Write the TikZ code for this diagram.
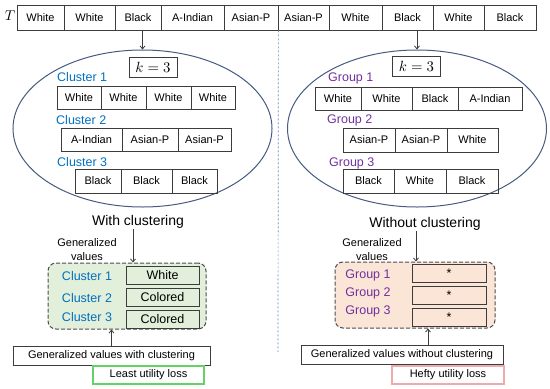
\documentclass[tikz,border=0pt]{standalone}
\usepackage{graphicx}
\usepackage{fontspec}
\setmainfont{Liberation Sans}
\usetikzlibrary{arrows.meta, positioning, shapes.geometric}

\definecolor{clblue}{RGB}{0,112,192}
\definecolor{grpurple}{RGB}{112,48,160}
\definecolor{ovline}{RGB}{70,90,130}
\definecolor{gfill}{RGB}{226,239,218}
\definecolor{pfill}{RGB}{251,229,214}
\definecolor{lgreen}{RGB}{100,210,100}
\definecolor{lpink}{RGB}{240,170,170}
\definecolor{sepblue}{RGB}{90,130,200}
\definecolor{bordgray}{RGB}{60,60,60}

\newcommand{\kval}{\scalebox{1.35}{$k=3$}}

\begin{document}
\begin{tikzpicture}[x=1pt, y=-1pt, font=\fontsize{11}{13}\selectfont,
  cell/.style={draw=bordgray, line width=0.8pt, inner sep=0pt, minimum height=23},
  ov/.style={draw=ovline, line width=1pt, ellipse, inner sep=0pt,
             minimum width=259, minimum height=157},
  kbox/.style={draw=bordgray, line width=0.8pt, inner sep=0pt, minimum height=20,
               minimum width=48},
  clus/.style={text=clblue, font=\fontsize{12.5}{14}\selectfont, inner sep=0pt},
  grp/.style={clus, text=grpurple},
  head/.style={font=\fontsize{14}{16}\selectfont, inner sep=0pt},
  gen/.style={align=center, inner sep=0pt, font=\fontsize{11}{14}\selectfont},
  region/.style={draw=gray!60!black, dashed, dash pattern=on 4pt off 2pt, line width=1pt,
                 rounded corners=8pt, minimum width=158, minimum height=66, inner sep=0pt},
  val/.style={draw=bordgray, line width=1pt, inner sep=0pt, minimum width=73, minimum height=18,
              font=\fontsize{12.5}{14}\selectfont},
  sum/.style={draw=bordgray, line width=0.9pt, inner sep=0pt, minimum height=19},
  loss/.style={draw=#1, line width=1.2pt, inner sep=0pt, minimum height=18},
  arr/.style={-{Straight Barb[length=3pt, width=5pt]}, bordgray, line width=0.8pt}
]
\useasboundingbox (0,0) rectangle (550,389);

% original table
\node (tlab) at (10,16) {\scalebox{1.3}{$T$}};
\foreach \n/\a/\b/\t in {1/17/64/White, 2/64/115/White, 3/115/161/Black, 4/161/224/A-Indian,
                         5/224/278/Asian-P, 6/278/329/Asian-P, 7/329/382/White, 8/382/433/Black,
                         9/433/484/White, 10/484/536/Black}
  \node[cell, minimum width=\b-\a, minimum height=25] (t\n) at ({(\a+\b)/2},17.5) {\t};

\coordinate (sbot) at (278,352);
\draw[sepblue, dashed, dash pattern=on 2pt off 2pt, line width=0.7pt] (t5.south east) -- (sbot);

% with clustering
\node[ov] (lel) at (142.5,128.5) {};
\draw[arr] (t3.south -| lel.north) -- (lel.north);
\node[kbox] (lk) at (153,67) {\kval};

\node[clus, anchor=west] (lc1) at (57,77) {Cluster 1};
\foreach \n/\a/\b/\t in {1/57/101/White, 2/101/146/White, 3/146/191/White, 4/191/235/White}
  \node[cell, minimum width=\b-\a] (la\n) at ({(\a+\b)/2},97.5) {\t};
\node[clus, anchor=west] (lc2) at (56,120) {Cluster 2};
\foreach \n/\a/\b/\t in {1/61/122/A-Indian, 2/122/178/Asian-P, 3/178/231/Asian-P}
  \node[cell, minimum width=\b-\a] (lb\n) at ({(\a+\b)/2},139.5) {\t};
\node[clus, anchor=west] (lc3) at (57,162) {Cluster 3};
\foreach \n/\a/\b/\t in {1/75/121/Black, 2/121/172/Black, 3/172/217/Black}
  \node[cell, minimum width=\b-\a, minimum height=24] (lr\n) at ({(\a+\b)/2},181) {\t};

\node[head] (lhead) at (138,222) {With clustering};
\node[gen] (lgen) at (87,250) {Generalized\\values};
\node[region, fill=gfill] (lgv) at (127,296) {};
\coordinate (ltip) at (133,229);
\draw[arr] (ltip) -- (ltip |- lgv.north);
\node[clus] (lg1) at (87,276) {Cluster 1};
\node[clus] (lg2) at (87,298) {Cluster 2};
\node[clus] (lg3) at (87,317) {Cluster 3};
\node[val] (lv1) at (162.5,275) {White};
\node[val] (lv2) at (162.5,297) {Colored};
\node[val] (lv3) at (162.5,319.5) {Colored};

\node[sum, minimum width=197] (lsum) at (111.5,355.5) {Generalized values with clustering};
\draw[arr] (lsum.north) -- (lsum.north |- lgv.south);
\node[loss=lgreen, minimum width=111] (lloss) at (148.5,375) {Least utility loss};

% without clustering
\node[ov] (rel) at (417,128.5) {};
\draw[arr] (t8.south -| rel.north) -- (rel.north);
\node[kbox] (rk) at (416.5,66.5) {\kval};

\node[grp, anchor=west] (rg1) at (328,78) {Group 1};
\foreach \n/\a/\b/\t in {1/315/361/White, 2/361/412/White, 3/412/458/Black, 4/458/522/A-Indian}
  \node[cell, minimum width=\b-\a] (ra\n) at ({(\a+\b)/2},98.5) {\t};
\node[grp, anchor=west] (rg2) at (327,120) {Group 2};
\foreach \n/\a/\b/\t in {1/343/395/Asian-P, 2/395/447/Asian-P, 3/447/498/White}
  \node[cell, minimum width=\b-\a, minimum height=24] (rb\n) at ({(\a+\b)/2},140) {\t};
\node[grp, anchor=west] (rg3) at (329,163) {Group 3};
\foreach \n/\a/\b/\t in {1/343/394/Black, 2/394/446/White, 3/446/498/Black}
  \node[cell, minimum width=\b-\a, minimum height=24] (rr\n) at ({(\a+\b)/2},181) {\t};

\node[head] (rhead) at (425,224) {Without clustering};
\node[gen] (rgen) at (372,250) {Generalized\\values};
\node[region, fill=pfill, minimum width=160] (rgv) at (415,295) {};
\coordinate (rtip) at (416,231);
\draw[arr] (rtip) -- (rtip |- rgv.north);
\node[grp] (rq1) at (368,275) {Group 1};
\node[grp] (rq2) at (368,293) {Group 2};
\node[grp] (rq3) at (368,311) {Group 3};
\node[val, minimum width=74] (rv1) at (449,273) {*};
\node[val, minimum width=74] (rv2) at (449,295) {*};
\node[val, minimum width=74] (rv3) at (449,317) {*};

\node[sum, minimum width=202] (rsum) at (402,354.5) {Generalized values without clustering};
\coordinate (rfoot) at (428,345);
\draw[arr] (rfoot) -- (rfoot |- rgv.south);
\node[loss=lpink, minimum width=112] (rloss) at (448,375) {Hefty utility loss};
\end{tikzpicture}
\end{document}
